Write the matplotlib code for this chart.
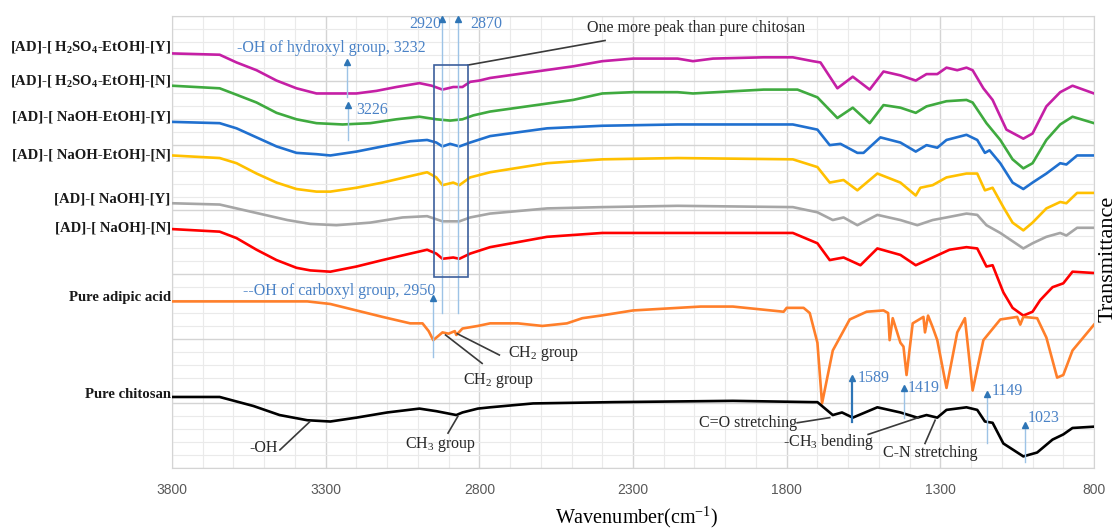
import matplotlib.pyplot as plt
from matplotlib.patches import Rectangle
from matplotlib.ticker import MultipleLocator

plt.rcParams['font.family'] = ['Liberation Serif', 'DejaVu Serif']
plt.rcParams['mathtext.default'] = 'regular'

# FTIR spectra (wavenumber in cm-1, stacked transmittance in a.u.)
mag_wn = [3800, 3645, 3590, 3525, 3460, 3395, 3330, 3265, 3200, 3135, 3070, 2995, 2955, 2920, 2885,
          2855, 2830, 2800, 2765, 2495, 2400, 2300, 2155, 2105, 2040, 1875, 1780, 1715, 1690, 1635,
          1585, 1530, 1485, 1430, 1380, 1345, 1310, 1280, 1245, 1215, 1195, 1160, 1130, 1085, 1030,
          1000, 955, 910, 870, 800]
mag_t = [32.1, 32.0, 31.4, 30.8, 30.0, 29.4, 29.0, 29.0, 29.0, 29.2, 29.5, 29.8, 29.6, 29.3, 29.5,
         29.5, 29.9, 30.0, 30.2, 31.1, 31.5, 31.7, 31.7, 31.5, 31.7, 31.8, 31.8, 31.5, 31.4, 29.4,
         30.3, 29.3, 30.7, 30.4, 30.0, 30.5, 30.5, 31.0, 30.8, 31.0, 30.8, 29.4, 28.5, 26.2, 25.5,
         25.9, 28.0, 29.1, 29.6, 29.0]

grn_wn = [3800, 3645, 3590, 3525, 3460, 3395, 3330, 3245, 3155, 3070, 2995, 2940, 2895, 2855, 2820,
          2765, 2495, 2400, 2300, 2155, 2105, 1875, 1765, 1700, 1635, 1585, 1530, 1485, 1430, 1380,
          1345, 1280, 1215, 1195, 1150, 1105, 1065, 1030, 1000, 955, 910, 870, 800]
grn_t = [29.6, 29.4, 28.9, 28.3, 27.5, 27.0, 26.7, 26.6, 26.7, 27.0, 27.2, 27.0, 26.9, 27.0, 27.3,
         27.6, 28.5, 29.0, 29.1, 29.1, 29.0, 29.3, 29.3, 28.7, 27.1, 27.9, 26.7, 28.1, 27.9, 27.5,
         28.0, 28.4, 28.5, 28.3, 26.7, 25.4, 23.9, 23.2, 23.6, 25.4, 26.6, 27.2, 26.7]

blu_wn = [3800, 3645, 3590, 3525, 3460, 3395, 3330, 3285, 3200, 3115, 3025, 2970, 2940, 2920, 2895,
          2865, 2830, 2765, 2580, 2400, 2155, 1780, 1700, 1660, 1625, 1570, 1550, 1495, 1430, 1380,
          1345, 1310, 1280, 1215, 1180, 1155, 1140, 1105, 1065, 1030, 1000, 955, 910, 890, 855, 800]
blu_t = [26.8, 26.7, 26.3, 25.6, 24.9, 24.4, 24.3, 24.2, 24.5, 24.9, 25.3, 25.4, 25.2, 24.9, 25.1,
         24.9, 25.2, 25.7, 26.3, 26.5, 26.6, 26.6, 26.2, 25.0, 25.1, 24.4, 24.4, 25.6, 25.2, 24.5,
         25.0, 24.8, 25.4, 25.8, 25.4, 24.4, 24.6, 23.6, 22.1, 21.6, 22.1, 22.8, 23.6, 23.5, 24.2, 24.2]

yel_wn = [3800, 3645, 3590, 3525, 3460, 3395, 3330, 3285, 3200, 3115, 3025, 2970, 2940, 2920, 2885,
          2865, 2830, 2765, 2580, 2400, 2155, 1780, 1700, 1660, 1615, 1570, 1505, 1430, 1380, 1365,
          1325, 1280, 1215, 1180, 1155, 1130, 1095, 1065, 1030, 1000, 955, 910, 890, 855, 800]
yel_t = [24.2, 24.0, 23.6, 22.8, 22.1, 21.6, 21.4, 21.4, 21.7, 22.1, 22.6, 22.9, 22.5, 21.9, 22.1,
         21.9, 22.5, 22.9, 23.6, 23.9, 24.0, 23.9, 23.3, 22.1, 22.3, 21.5, 22.8, 22.1, 21.1, 21.7,
         21.9, 22.5, 22.8, 22.8, 21.5, 21.7, 20.2, 19.0, 18.4, 19.0, 20.1, 20.6, 20.5, 21.3, 21.3]

gry_wn = [3800, 3645, 3535, 3425, 3350, 3265, 3155, 3050, 2970, 2920, 2865, 2830, 2765, 2580, 2400,
          2155, 1780, 1700, 1650, 1615, 1570, 1505, 1430, 1375, 1325, 1280, 1215, 1180, 1150, 1105,
          1030, 1000, 955, 910, 890, 855, 800]
gry_t = [20.5, 20.4, 19.8, 19.2, 18.9, 18.8, 19.0, 19.4, 19.5, 19.1, 19.1, 19.4, 19.7, 20.1, 20.2,
         20.3, 20.2, 19.8, 19.2, 19.4, 18.8, 19.6, 19.2, 18.8, 19.2, 19.4, 19.7, 19.6, 18.8, 18.2,
         17.0, 17.4, 17.9, 18.2, 18.0, 18.6, 18.6]

red_wn = [3800, 3645, 3590, 3525, 3460, 3395, 3350, 3285, 3200, 3115, 3025, 2970, 2940, 2920, 2885,
          2865, 2830, 2765, 2580, 2400, 2155, 1780, 1700, 1660, 1615, 1560, 1505, 1430, 1380, 1325,
          1270, 1215, 1180, 1150, 1130, 1095, 1065, 1030, 1000, 975, 935, 900, 870, 800]
red_t = [18.5, 18.3, 17.8, 16.9, 16.1, 15.5, 15.3, 15.2, 15.6, 16.1, 16.6, 16.9, 16.6, 16.2, 16.3,
         16.2, 16.6, 17.1, 17.9, 18.2, 18.2, 18.2, 17.4, 16.1, 16.3, 15.7, 17.0, 16.5, 15.7, 16.3,
         16.9, 17.1, 17.0, 15.6, 15.7, 13.6, 12.4, 11.8, 12.1, 13.0, 14.0, 14.3, 15.2, 15.1]

adi_wn = [3800, 3360, 3285, 3200, 3115, 3025, 2985, 2965, 2950, 2935, 2920, 2900, 2880, 2875, 2855,
          2805, 2765, 2675, 2595, 2515, 2465, 2405, 2300, 2080, 1975, 1810, 1800, 1745, 1725, 1700,
          1685, 1650, 1595, 1540, 1485, 1470, 1465, 1455, 1430, 1420, 1410, 1390, 1355, 1350, 1340,
          1325, 1310, 1280, 1245, 1220, 1195, 1160, 1105, 1050, 1040, 1030, 985, 955, 920, 900,
          870, 800]
adi_t = [12.9, 12.9, 12.7, 12.2, 11.7, 11.2, 11.2, 10.6, 9.9, 10.2, 10.5, 10.4, 10.6, 10.3, 10.8,
         11.0, 11.2, 11.2, 11.0, 11.2, 11.6, 11.8, 12.2, 12.5, 12.5, 12.1, 12.4, 12.4, 12.0, 9.7,
         5.0, 9.1, 11.5, 12.1, 12.2, 12.0, 9.9, 11.6, 9.7, 9.4, 7.2, 11.2, 11.7, 10.5, 11.8,
         10.9, 9.9, 6.2, 10.5, 11.6, 6.0, 9.9, 11.5, 11.7, 11.1, 11.7, 11.6, 10.1, 7.0, 7.2,
         9.1, 11.1]

chi_wn = [3800, 3645, 3535, 3450, 3360, 3285, 3200, 3100, 2995, 2940, 2875, 2855, 2805, 2765, 2625,
          2365, 1975, 1715, 1700, 1650, 1620, 1585, 1505, 1430, 1375, 1345, 1310, 1280, 1215, 1180,
          1155, 1130, 1095, 1030, 985, 935, 900, 870, 800]
chi_t = [5.5, 5.5, 4.8, 4.1, 3.7, 3.6, 3.9, 4.3, 4.6, 4.4, 4.1, 4.3, 4.6, 4.7, 5.0,
         5.1, 5.2, 5.1, 5.1, 4.1, 4.3, 3.9, 4.7, 4.3, 3.9, 4.1, 3.9, 4.5, 4.7, 4.5,
         3.6, 3.5, 1.9, 0.9, 1.2, 2.2, 2.6, 3.1, 3.2]

names = ['[AD]-[ H$_2$SO$_4$-EtOH]-[Y]', '[AD]-[ H$_2$SO$_4$-EtOH]-[N]',
         '[AD]-[ NaOH-EtOH]-[Y]', '[AD]-[ NaOH-EtOH]-[N]',
         '[AD]-[ NaOH]-[Y]', '[AD]-[ NaOH]-[N]',
         'Pure adipic acid', 'Pure chitosan']
wavenumbers = [mag_wn, grn_wn, blu_wn, yel_wn, gry_wn, red_wn, adi_wn, chi_wn]
transmittance = [mag_t, grn_t, blu_t, yel_t, gry_t, red_t, adi_t, chi_t]
colors = ['#C51FA5', '#3FAA3F', '#2070CF', '#FFC000', '#A6A6A6', '#FF0000', '#FF7F2A', '#000000']
name_y = [32.6, 30.0, 27.2, 24.2, 20.8, 18.6, 13.2, 5.7]

x_ticks = [3800, 3300, 2800, 2300, 1800, 1300, 800]

LIGHT = '#9DC3E6'
DARK = '#2E75B6'
TXT_BLUE = '#4A82C6'
LEADER = '#3A3A3A'


def up_arrow(ax, x, y0, y1, color=LIGHT, lw=1.0):
    ax.plot([x, x], [y0, y1], color=color, lw=lw, zorder=4)
    ax.plot(x, y1, marker='^', ms=4.5, color=DARK, zorder=5, clip_on=False)


def leader(ax, x0, y0, x1, y1):
    ax.plot([x0, x1], [y0, y1], color=LEADER, lw=1.2, zorder=4)


fig = plt.figure(figsize=(11.2, 5.29), dpi=100)
ax = fig.add_axes([0.1536, 0.1153, 0.8232, 0.8545])

for wn, t, c in zip(wavenumbers, transmittance, colors):
    ax.plot(wn, t, color=c, lw=1.9, zorder=3, solid_joinstyle='round')

ax.set_xlim(3800, 800)
ax.set_ylim(0, 35)
ax.set_xticks(x_ticks)
ax.xaxis.set_minor_locator(MultipleLocator(100))
ax.yaxis.set_major_locator(MultipleLocator(5))
ax.yaxis.set_minor_locator(MultipleLocator(1))
ax.set_yticklabels([])
ax.grid(which='major', color='#D4D4D4', lw=1.0)
ax.grid(which='minor', color='#EAEAEA', lw=0.8)
ax.set_axisbelow(True)
ax.tick_params(which='both', length=0)
ax.tick_params(axis='x', labelsize=10, labelcolor='#595959', pad=11)
for lbl in ax.get_xticklabels():
    lbl.set_fontfamily('Liberation Sans')
for s in ax.spines.values():
    s.set_color('#D4D4D4')

# sample names on the left
for name, y in zip(names, name_y):
    ax.annotate(name, xy=(0, y), xycoords=('axes fraction', 'data'), xytext=(-1, 0),
                textcoords='offset points', ha='right', va='center',
                fontsize=10.6, fontweight='bold', color='#1A1A1A')

# O-H bands
ax.text(3590, 32.5, '-OH of hydroxyl group, 3232', color=TXT_BLUE, fontsize=11.5, va='center')
up_arrow(ax, 3232, 28.7, 31.4)
up_arrow(ax, 3226, 25.4, 28.1)
ax.text(3200, 27.7, '3226', color=TXT_BLUE, fontsize=11.5, va='center')

# C-H stretching region
up_arrow(ax, 2920, 12.0, 34.8)
up_arrow(ax, 2870, 12.0, 34.8)
ax.text(2925, 34.4, '2920', color=TXT_BLUE, fontsize=11.5, va='center', ha='right')
ax.text(2830, 34.4, '2870', color=TXT_BLUE, fontsize=11.5, va='center')
ax.add_patch(Rectangle((2947, 14.8), -110, 16.4, fill=False, ec='#3C5F9C', lw=1.2, zorder=5))
leader(ax, 2837, 31.2, 2391, 33.1)
ax.text(2450, 34.1, 'One more peak than pure chitosan', color='#262626', fontsize=11.5, va='center')

# adipic acid
ax.text(3570, 13.7, '--OH of carboxyl group, 2950', color=TXT_BLUE, fontsize=11.5, va='center')
up_arrow(ax, 2950, 8.6, 13.2)
leader(ax, 2910, 10.3, 2791, 8.1)
ax.text(2853, 6.8, 'CH$_2$ group', color='#262626', fontsize=11.5, va='center')
leader(ax, 2872, 10.4, 2735, 8.75)
ax.text(2707, 8.9, 'CH$_2$ group', color='#262626', fontsize=11.5, va='center')

# chitosan
leader(ax, 3449, 1.4, 3351, 3.6)
ax.text(3455, 1.55, '-OH', color='#262626', fontsize=11.5, va='center', ha='right')
leader(ax, 2902, 2.7, 2870, 4.0)
ax.text(2925, 1.8, 'CH$_3$ group', color='#262626', fontsize=11.5, va='center', ha='center')
leader(ax, 1766, 3.5, 1660, 3.9)
ax.text(1766, 3.5, 'C=O stretching', color='#262626', fontsize=11.5, va='center', ha='right')
leader(ax, 1535, 2.6, 1372, 3.9)
ax.text(1812, 2.0, '-CH$_3$ bending', color='#262626', fontsize=11.5, va='center')
leader(ax, 1350, 1.9, 1317, 3.7)
ax.text(1486, 1.2, 'C-N stretching', color='#262626', fontsize=11.5, va='center')

up_arrow(ax, 1589, 3.6, 7.0, color=DARK, lw=1.6)
ax.text(1568, 7.0, '1589', color=TXT_BLUE, fontsize=11.5, va='center')
up_arrow(ax, 1419, 3.9, 6.2)
ax.text(1408, 6.2, '1419', color=TXT_BLUE, fontsize=11.5, va='center')
up_arrow(ax, 1149, 1.9, 5.7)
ax.text(1132, 6.0, '1149', color=TXT_BLUE, fontsize=11.5, va='center')
up_arrow(ax, 1023, 0.5, 3.3)
ax.text(1015, 3.9, '1023', color=TXT_BLUE, fontsize=11.5, va='center')

fig.text(0.568, 0.022, 'Wavenumber(cm$^{-1}$)', ha='center', va='center', fontsize=14.5)
fig.text(0.989, 0.51, 'Transmittance', rotation=90, ha='center', va='center', fontsize=16)

fig.savefig('out.png', dpi=100)
